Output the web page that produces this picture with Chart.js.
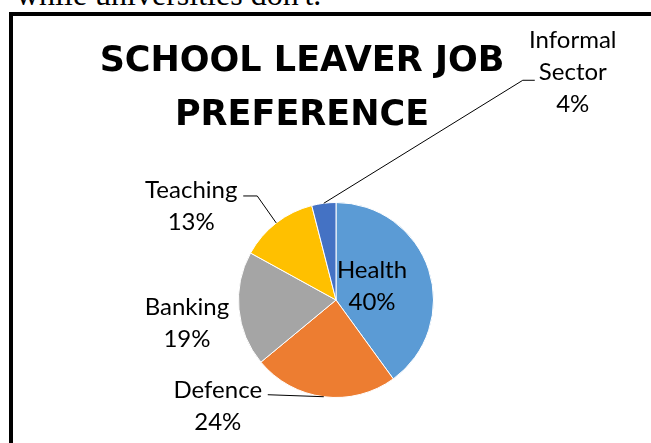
<!DOCTYPE html>
<html>
<head>
<meta charset="utf-8">
<script src="https://cdn.jsdelivr.net/npm/chart.js@4.4.1/dist/chart.umd.min.js"></script>
<style>
  html, body { margin: 0; padding: 0; background: #fff; }
  #page { position: relative; width: 651px; height: 443px; overflow: hidden; }
  #caption {
    position: absolute; left: 16px; top: -22px;
    font-family: 'Liberation Serif', serif; font-size: 32px; line-height: 32px;
    color: #000; white-space: nowrap;
  }
  #frame {
    position: absolute; left: 9px; top: 12px; width: 700px; height: 500px;
    border-left: 4px solid #000; border-top: 4px solid #000;
  }
  #wrap { position: absolute; left: 0; top: 0; width: 651px; height: 443px; }
</style>
</head>
<body>
<div id="page">
  <div id="caption">while universities don't.</div>
  <div id="frame"></div>
  <div id="wrap"><canvas id="chart"></canvas></div>
</div>
<script>
'use strict';

var categories = ['Health', 'Defence', 'Banking', 'Teaching', 'Informal Sector'];
var shares = [40, 24, 19, 13, 4];
var sliceColors = ['#5B9BD5', '#ED7D31', '#A5A5A5', '#FFC000', '#4472C4'];
var titleLines = ['SCHOOL LEAVER JOB', 'PREFERENCE'];

// where each data label sits, relative to the slice's outer edge at mid angle
// (or the pie centre for inside labels), plus leader line elbows
var labelPlaces = [
  { inside: true, dx: 36, dy: -22 },
  { dx: -106, dy: 1, leader: [[-56, -2]] },
  { dx: -52, dy: 6 },
  { dx: -85, dy: -25, leader: [[-19, -27], [-33, -27]] },
  { dx: 249, dy: -155, wrap: true, leader: [[199, -123], [211, -123]] }
];

var labelFont = '24px Lato, "Noto Sans", sans-serif';
var titleFont = 'bold 35px "DejaVu Sans", sans-serif';
var lineGap = 32;

var pieLabels = {
  id: 'pieLabels',
  afterDraw: function(chart) {
    var ctx = chart.ctx;
    var total = shares.reduce(function(a, b) { return a + b; }, 0);
    var meta = chart.getDatasetMeta(0);

    ctx.save();
    ctx.fillStyle = '#000';
    ctx.textAlign = 'center';
    ctx.textBaseline = 'alphabetic';

    // title
    ctx.font = titleFont;
    ctx.fillText(titleLines[0], 302, 71);
    ctx.fillText(titleLines[1], 302, 125);

    ctx.font = labelFont;
    meta.data.forEach(function(arc, i) {
      var p = arc.getProps(['x', 'y', 'startAngle', 'endAngle', 'outerRadius'], true);
      var place = labelPlaces[i];
      var mid = (p.startAngle + p.endAngle) / 2;
      var ax = p.x, ay = p.y;
      if (!place.inside) {
        ax = p.x + Math.cos(mid) * p.outerRadius;
        ay = p.y + Math.sin(mid) * p.outerRadius;
      }

      if (place.leader) {
        ctx.beginPath();
        ctx.strokeStyle = '#000';
        ctx.lineWidth = 1;
        ctx.moveTo(ax, ay);
        place.leader.forEach(function(pt) {
          ctx.lineTo(ax + pt[0], ay + pt[1]);
        });
        ctx.stroke();
      }

      var lines = place.wrap ? categories[i].split(' ') : [categories[i]];
      lines.push(Math.round(shares[i] * 100 / total) + '%');
      lines.forEach(function(t, k) {
        ctx.fillText(t, ax + place.dx, ay + place.dy + k * lineGap);
      });
    });
    ctx.restore();
  }
};

new Chart(document.getElementById('chart'), {
  type: 'pie',
  data: {
    labels: categories,
    datasets: [{
      data: shares,
      backgroundColor: sliceColors,
      borderColor: '#fff',
      borderWidth: 1
    }]
  },
  options: {
    responsive: true,
    maintainAspectRatio: false,
    animation: false,
    layout: { padding: { left: 238, right: 217, top: 202, bottom: 45 } },
    plugins: {
      legend: { display: false },
      tooltip: { enabled: false },
      title: { display: false }
    }
  },
  plugins: [pieLabels]
});
</script>
</body>
</html>
